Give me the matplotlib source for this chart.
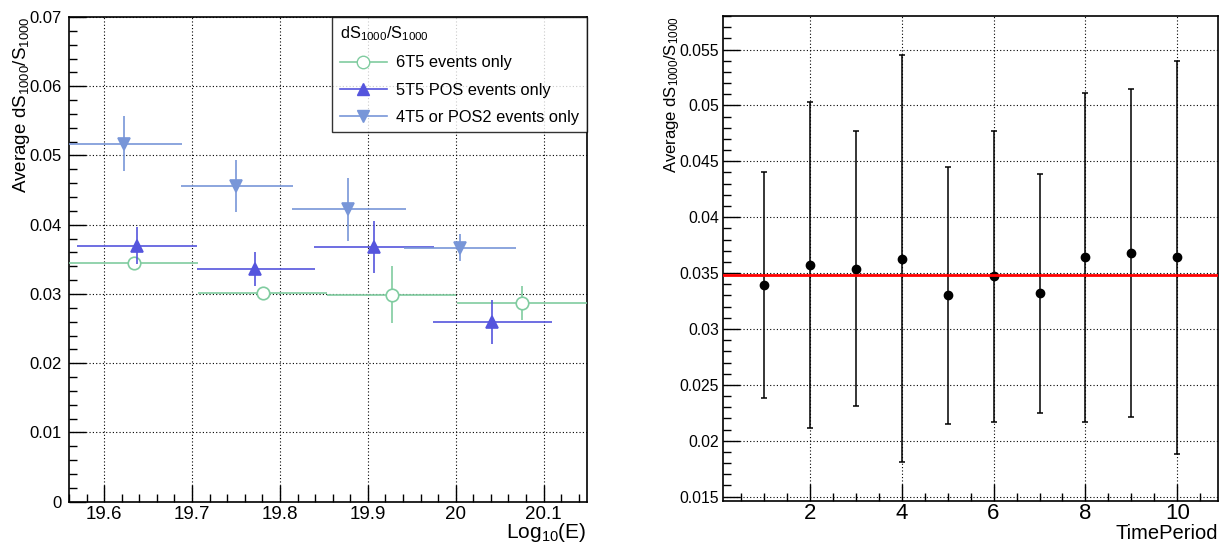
import matplotlib
matplotlib.use("Agg")
import matplotlib.pyplot as plt
from matplotlib.lines import Line2D
from matplotlib.ticker import MultipleLocator
import numpy as np

plt.rcParams['font.family'] = ['Liberation Sans', 'DejaVu Sans']
plt.rcParams['mathtext.fontset'] = 'custom'
plt.rcParams['mathtext.rm'] = 'Liberation Sans'
plt.rcParams['mathtext.it'] = 'Liberation Sans:italic'

# ---------------- left panel data ----------------
x6 = [19.634, 19.781, 19.928, 20.075]
y6 = [0.0345, 0.0301, 0.0299, 0.0287]
y6_err = [0.0008, 0.0007, 0.0041, 0.0025]
x6_lo = [19.560, 19.707, 19.854, 20.001]
x6_hi = [19.707, 19.854, 20.000, 20.149]

x5 = [19.6375, 19.772, 19.907, 20.041]
y5 = [0.0370, 0.0336, 0.0368, 0.0260]
y5_err = [0.0027, 0.0025, 0.0037, 0.0032]
x5_lo = [19.569, 19.706, 19.839, 19.974]
x5_hi = [19.706, 19.840, 19.975, 20.110]

x4 = [19.623, 19.750, 19.877, 20.005]
y4 = [0.0517, 0.0456, 0.0422, 0.0367]
y4_err = [0.0040, 0.0037, 0.0045, 0.0019]
x4_lo = [19.560, 19.687, 19.814, 19.941]
x4_hi = [19.688, 19.815, 19.943, 20.069]

labels = ["6T5 events only", "5T5 POS events only", "4T5 or POS2 events only"]

# ---------------- right panel data ----------------
period = [1, 2, 3, 4, 5, 6, 7, 8, 9, 10]
mean_ds = [0.0339, 0.0357, 0.0354, 0.0363, 0.0330, 0.0347, 0.0332, 0.0364, 0.0368, 0.0364]
err_ds = [0.0101, 0.0146, 0.0123, 0.0182, 0.0115, 0.0130, 0.0107, 0.0147, 0.0147, 0.0176]
fit_value = 0.0348

c6 = '#80cca0'
c5 = '#5555dd'
c4 = '#7896d8'

W, H = 1220, 546
fig = plt.figure(figsize=(W / 100, H / 100), dpi=100)

def frac(x0, y0, x1, y1):
    return [x0 / W, 1 - y1 / H, (x1 - x0) / W, (y1 - y0) / H]

axL = fig.add_axes(frac(69, 17, 586.7, 501.7))
axR = fig.add_axes(frac(723.3, 16, 1218.3, 500.7))

grid_kw = dict(color='black', linestyle=(0, (1, 2)), linewidth=0.8)

# left
def draw(ax, x, y, yerr, lo, hi, color, marker, mfc, zorder):
    x = np.asarray(x); lo = np.asarray(lo); hi = np.asarray(hi)
    ax.errorbar(x, y, yerr=yerr, xerr=[x - lo, hi - x], fmt=marker, color=color,
                mfc=mfc, mec=color, ms=9, mew=1.2, elinewidth=1.2, capsize=0,
                zorder=zorder)

draw(axL, x6, y6, y6_err, x6_lo, x6_hi, c6, 'o', 'white', 3)
draw(axL, x5, y5, y5_err, x5_lo, x5_hi, c5, '^', c5, 4)
draw(axL, x4, y4, y4_err, x4_lo, x4_hi, c4, 'v', c4, 5)

axL.set_xlim(19.560, 20.149)
axL.set_ylim(0, 0.07)
axL.xaxis.set_major_locator(MultipleLocator(0.1))
axL.xaxis.set_minor_locator(MultipleLocator(0.02))
axL.yaxis.set_major_locator(MultipleLocator(0.01))
axL.yaxis.set_minor_locator(MultipleLocator(0.002))
axL.set_xticks([19.6, 19.7, 19.8, 19.9, 20.0, 20.1])
axL.set_xticklabels(['19.6', '19.7', '19.8', '19.9', '20', '20.1'])
axL.set_yticks([0, 0.01, 0.02, 0.03, 0.04, 0.05, 0.06, 0.07])
axL.set_yticklabels(['0', '0.01', '0.02', '0.03', '0.04', '0.05', '0.06', '0.07'])
axL.grid(True, which='major', **grid_kw)
axL.set_axisbelow(True)
axL.tick_params(axis='x', which='major', direction='in', length=12, width=1, labelsize=13.5, pad=3)
axL.tick_params(axis='x', which='minor', direction='in', length=6, width=1)
axL.tick_params(axis='y', which='major', direction='in', length=12, width=1, labelsize=12, pad=5)
axL.tick_params(axis='y', which='minor', direction='in', length=6, width=1)
axL.set_xlabel(r'Log$_{10}$(E)', fontsize=15, ha='right')
axL.xaxis.set_label_coords(1.0, -0.040)
axL.set_ylabel(r'Average dS$_{1000}$/S$_{1000}$', fontsize=13.5, ha='right')
axL.yaxis.set_label_coords(-0.072, 1.0)

handles = [
    Line2D([], [], color=c6, marker='o', mfc='white', mec=c6, ms=9, lw=1.2),
    Line2D([], [], color=c5, marker='^', mfc=c5, mec=c5, ms=9, lw=1.2),
    Line2D([], [], color=c4, marker='v', mfc=c4, mec=c4, ms=9, lw=1.2),
]
leg = axL.legend(handles, labels, title=r'dS$_{1000}$/S$_{1000}$', loc='upper right',
                 bbox_to_anchor=(1.0, 1.0), fontsize=11.8, title_fontsize=11.8,
                 frameon=True, fancybox=False, borderaxespad=0, handlelength=2.9,
                 handletextpad=0.55, labelspacing=0.75, borderpad=0.45,
                 alignment='left')
leg.get_frame().set_edgecolor('black')
leg.get_frame().set_linewidth(1.0)

# right
axR.errorbar(period, mean_ds, yerr=err_ds, fmt='o', color='black', ms=6,
             elinewidth=1.1, capsize=2.5, capthick=1.1, zorder=3)
axR.axhline(fit_value, color='red', lw=2, zorder=4)
axR.set_xlim(0.12, 10.89)
axR.set_ylim(0.01464, 0.0580)
axR.xaxis.set_major_locator(MultipleLocator(2))
axR.xaxis.set_minor_locator(MultipleLocator(0.5))
axR.yaxis.set_major_locator(MultipleLocator(0.005))
axR.yaxis.set_minor_locator(MultipleLocator(0.001))
axR.set_yticks([0.015, 0.02, 0.025, 0.03, 0.035, 0.04, 0.045, 0.05, 0.055])
axR.set_yticklabels(['0.015', '0.02', '0.025', '0.03', '0.035', '0.04', '0.045', '0.05', '0.055'])
axR.grid(True, which='major', **grid_kw)
axR.set_axisbelow(True)
axR.tick_params(axis='x', which='major', direction='in', length=12, width=1, labelsize=16, pad=2)
axR.tick_params(axis='x', which='minor', direction='in', length=6, width=1)
axR.tick_params(axis='y', which='major', direction='in', length=12, width=1, labelsize=11.3, pad=3)
axR.tick_params(axis='y', which='minor', direction='in', length=6, width=1)
axR.set_xlabel('TimePeriod', fontsize=14.5, ha='right')
axR.xaxis.set_label_coords(1.0, -0.048)
axR.set_ylabel(r'Average dS$_{1000}$/S$_{1000}$', fontsize=12, ha='right')
axR.yaxis.set_label_coords(-0.086, 1.0)

for ax in (axL, axR):
    for s in ax.spines.values():
        s.set_linewidth(1.2)

fig.savefig('out.png', dpi=100)
